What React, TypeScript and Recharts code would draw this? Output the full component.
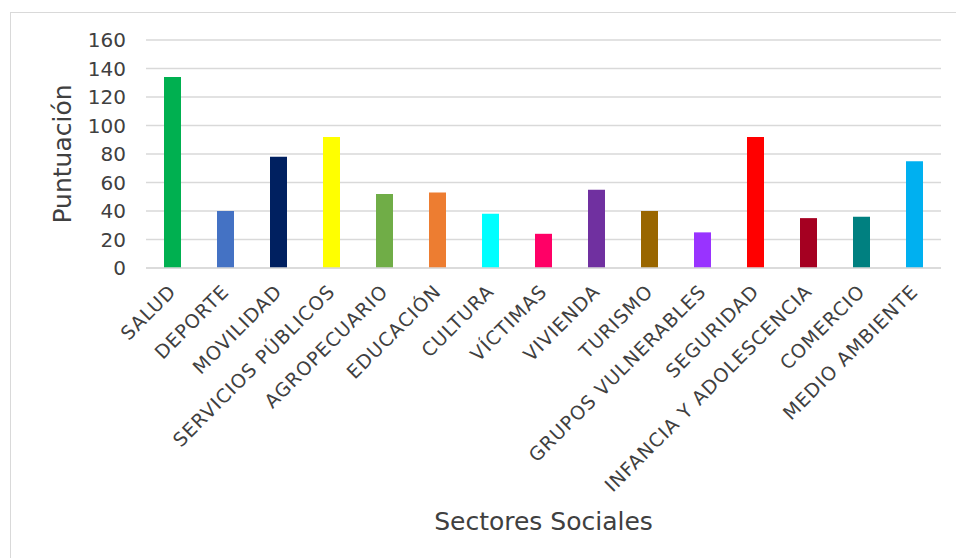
import React from 'react';
import { BarChart, Bar, XAxis, YAxis, CartesianGrid, Cell, Label } from 'recharts';

const sectores = [
  'SALUD',
  'DEPORTE',
  'MOVILIDAD',
  'SERVICIOS PÚBLICOS',
  'AGROPECUARIO',
  'EDUCACIÓN',
  'CULTURA',
  'VÍCTIMAS',
  'VIVIENDA',
  'TURISMO',
  'GRUPOS VULNERABLES',
  'SEGURIDAD',
  'INFANCIA Y ADOLESCENCIA',
  'COMERCIO',
  'MEDIO AMBIENTE',
];

const puntuacion = [134, 40, 78, 92, 52, 53, 38, 24, 55, 40, 25, 92, 35, 36, 75];

const colores = [
  '#00B050',
  '#4472C4',
  '#002060',
  '#FFFF00',
  '#70AD47',
  '#ED7D31',
  '#00FFFF',
  '#FF0066',
  '#7030A0',
  '#996600',
  '#9933FF',
  '#FF0000',
  '#A50021',
  '#008080',
  '#00B0F0',
];

const yTicks = [0, 20, 40, 60, 80, 100, 120, 140, 160];

const data = sectores.map((name, i) => ({ name, value: puntuacion[i] }));

const FONT = '"DejaVu Sans", sans-serif';
const TEXT = '#404040';

const SectorTick = ({ x, y, payload }: any) => (
  <g transform={`translate(${x},${y})`}>
    <text
      x={0}
      y={0}
      dy="0.35em"
      textAnchor="end"
      transform="rotate(-45)"
      fill={TEXT}
      fontSize={19}
      letterSpacing={1}
      fontFamily={FONT}
    >
      {payload.value}
    </text>
  </g>
);

const YTitle = ({ viewBox }: any) => {
  const cx = viewBox.x - 24;
  const cy = viewBox.y + viewBox.height / 2;
  return (
    <text
      x={cx}
      y={cy}
      textAnchor="middle"
      dominantBaseline="central"
      transform={`rotate(-90, ${cx}, ${cy})`}
      fill={TEXT}
      fontSize={25}
      fontFamily={FONT}
    >
      Puntuación
    </text>
  );
};

export default function App() {
  return (
    <div style={{ position: 'absolute', left: 0, top: 0, width: 956, height: 558, background: '#fff', overflow: 'hidden' }}>
      <div
        style={{
          position: 'absolute',
          left: 10,
          top: 12,
          width: 960,
          height: 560,
          border: '1px solid #d9d9d9',
        }}
      />
      <div style={{ position: 'absolute', left: 0, top: 0 }}>
        <BarChart
          width={956}
          height={558}
          data={data}
          margin={{ top: 40, right: 15, bottom: 20, left: 86 }}
        >
          <CartesianGrid vertical={false} stroke="#d9d9d9" strokeWidth={1.3} />
          <XAxis
            dataKey="name"
            interval={0}
            height={270}
            tickLine={false}
            tickSize={0}
            tickMargin={20}
            axisLine={{ stroke: '#d9d9d9', strokeWidth: 1.3 }}
            tick={<SectorTick />}
          >
            <Label
              value="Sectores Sociales"
              position="insideBottom"
              offset={8}
              fill={TEXT}
              fontSize={25}
              fontFamily={FONT}
            />
          </XAxis>
          <YAxis
            width={60}
            domain={[0, 160]}
            ticks={yTicks}
            interval={0}
            axisLine={false}
            tickLine={false}
            tickSize={0}
            tickMargin={20}
            tick={{ fill: TEXT, fontSize: 20, fontFamily: FONT }}
          >
            <Label content={<YTitle />} />
          </YAxis>
          <Bar dataKey="value" barSize={17} isAnimationActive={false}>
            {data.map((d, i) => (
              <Cell key={d.name} fill={colores[i]} />
            ))}
          </Bar>
        </BarChart>
      </div>
    </div>
  );
}
